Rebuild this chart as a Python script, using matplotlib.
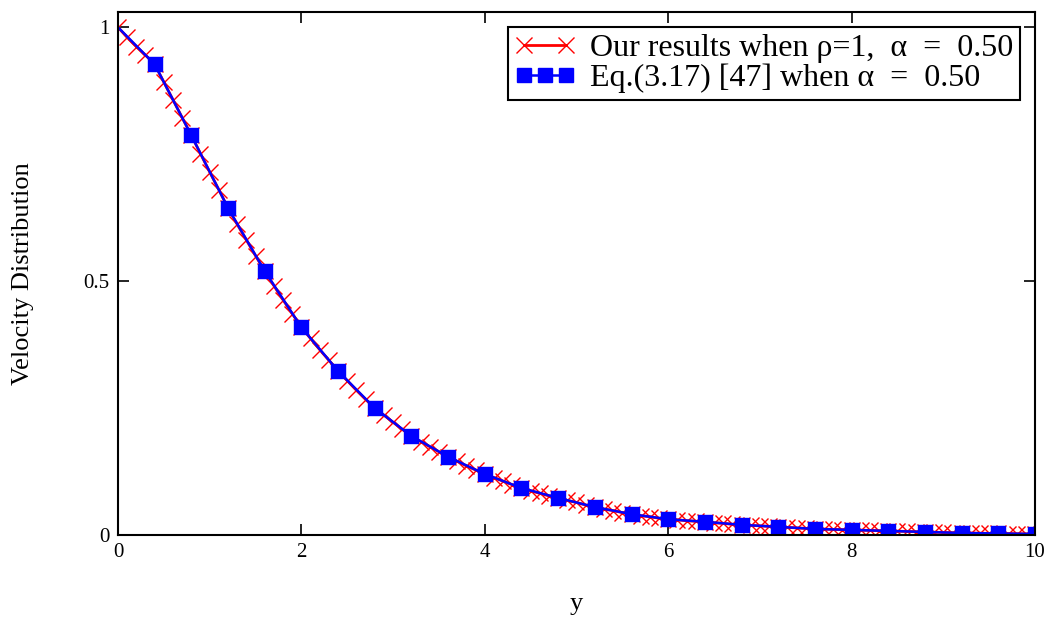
import numpy as np
import matplotlib
matplotlib.use("Agg")
import matplotlib.pyplot as plt
from matplotlib.legend_handler import HandlerLine2D

plt.rcParams['font.family'] = ['Liberation Serif', 'DejaVu Serif']

# red curve: "our results", sampled every 0.1
y_ours = np.round(np.arange(0, 10.01, 0.1), 1)
u_ours = [1.000, 0.980, 0.962, 0.945, 0.927, 0.892, 0.857, 0.822, 0.787, 0.751,
          0.715, 0.680, 0.644, 0.612, 0.581, 0.550, 0.520, 0.491, 0.463, 0.436,
          0.409, 0.387, 0.365, 0.344, 0.323, 0.304, 0.285, 0.267, 0.250, 0.236,
          0.222, 0.208, 0.195, 0.184, 0.174, 0.164, 0.154, 0.145, 0.136, 0.128,
          0.120, 0.113, 0.106, 0.099, 0.0925, 0.087, 0.082, 0.077, 0.073, 0.068,
          0.064, 0.059, 0.055, 0.051, 0.048, 0.044, 0.041, 0.038, 0.036, 0.033,
          0.031, 0.030, 0.028, 0.027, 0.026, 0.024, 0.023, 0.021, 0.020, 0.019,
          0.018, 0.017, 0.016, 0.015, 0.014, 0.013, 0.012, 0.0115, 0.011, 0.0105,
          0.010, 0.0095, 0.009, 0.0085, 0.008, 0.0075, 0.007, 0.0065, 0.006, 0.0055,
          0.005, 0.0045, 0.004, 0.0038, 0.0035, 0.0032, 0.003, 0.0028, 0.0025, 0.0022,
          0.002]

# blue squares: Eq.(3.17) [47]
y_eq = [0.0, 0.4, 0.8, 1.2, 1.6, 2.0, 2.4, 2.8, 3.2, 3.6, 4.0, 4.4, 4.8,
        5.2, 5.6, 6.0, 6.4, 6.8, 7.2, 7.6, 8.0, 8.4, 8.8, 9.2, 9.6, 10.0]
u_eq = [1.000, 0.927, 0.787, 0.644, 0.520, 0.409, 0.323, 0.250, 0.195, 0.154,
        0.120, 0.0925, 0.073, 0.055, 0.041, 0.031, 0.026, 0.020, 0.016, 0.012,
        0.010, 0.008, 0.006, 0.004, 0.003, 0.002]

fig = plt.figure(figsize=(10.57, 6.21), dpi=100)
ax = fig.add_axes([0.1116, 0.1385, 0.8676, 0.8422])

l1, = ax.plot(y_ours, u_ours, color='red', lw=2, marker='x', ms=12, mew=1.0,
              label='Our results when \u03c1=1,  \u03b1  =  0.50')
l2, = ax.plot(y_eq, u_eq, color='blue', lw=1.8, marker='s', ms=10.5,
              markevery=slice(1, None),
              label='Eq.(3.17) [47] when \u03b1  =  0.50')

ax.set_xlim(0, 10)
ax.set_ylim(0, 1.03)
ax.set_xticks([0, 2, 4, 6, 8, 10])
ax.set_yticks([0, 0.5, 1])
ax.set_yticklabels(['0', '0.5', '1'])
ax.tick_params(direction='in', length=8, width=1.2, top=True, right=True,
               labelsize=15, pad=6)
for s in ax.spines.values():
    s.set_linewidth(1.5)

ax.set_xlabel('y', fontsize=19, labelpad=22)
ax.set_ylabel('Velocity Distribution', fontsize=19, labelpad=36)

leg = ax.legend(handles=[l1, l2], loc='upper right',
                bbox_to_anchor=(0.9836, 0.9713), fontsize=23,
                fancybox=False, framealpha=1, edgecolor='black',
                handlelength=1.9, handletextpad=0.45, borderpad=0.22,
                borderaxespad=0, labelspacing=0.0,
                handler_map={l1: HandlerLine2D(numpoints=2),
                             l2: HandlerLine2D(numpoints=3)})
leg.get_frame().set_linewidth(1.5)

fig.savefig('out.png', dpi=100)
